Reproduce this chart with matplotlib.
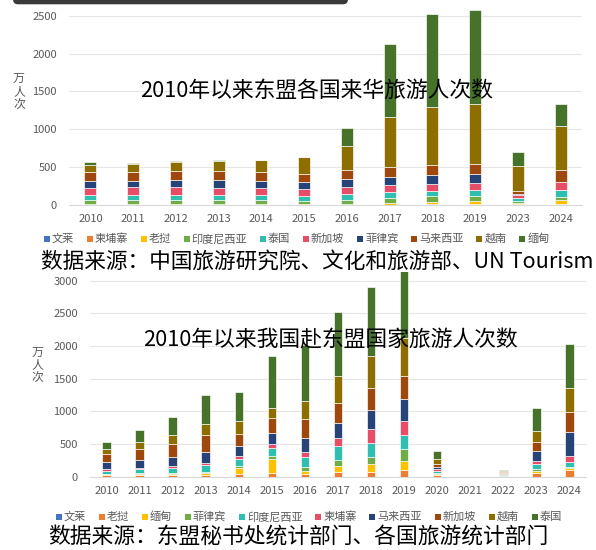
import matplotlib
matplotlib.use("Agg")
import matplotlib.pyplot as plt
from matplotlib.patches import FancyBboxPatch, Rectangle
import numpy as np

plt.rcParams['font.family'] = ['Noto Sans CJK SC', 'DejaVu Sans']

W, H = 596, 550

# --- chart 1: 东盟各国来华旅游人次 (万人次)
title_in = "2010年以来东盟各国来华旅游人次数"
source_in = "数据来源：中国旅游研究院、文化和旅游部、UN Tourism"
years_in = ["2010", "2011", "2012", "2013", "2014", "2015", "2016",
            "2017", "2018", "2019", "2023", "2024"]
countries_in = ["文莱", "柬埔寨", "老挝", "印度尼西亚", "泰国",
                "新加坡", "菲律宾", "马来西亚", "越南", "缅甸"]
brunei_in = [1, 1, 1, 1, 1, 1, 1, 1, 2, 2, 2, 2]
cambodia_in = [3, 3, 3, 3, 3, 3, 3, 5, 5, 5, 5, 8]
laos_in = [4, 4, 4, 4, 4, 5, 8, 22, 38, 40, 22, 55]
indonesia_in = [57, 58, 60, 60, 57, 48, 60, 65, 68, 72, 22, 45]
thailand_in = [64, 62, 65, 65, 61, 64, 75, 79, 76, 78, 35, 82]
singapore_in = [100, 106, 103, 97, 97, 88, 90, 92, 92, 92, 40, 108]
philippines_in = [83, 86, 96, 100, 97, 98, 110, 112, 115, 118, 15, 0]
malaysia_in = [125, 118, 120, 118, 113, 108, 115, 120, 127, 132, 38, 165]
vietnam_in = [92, 100, 110, 133, 160, 218, 317, 660, 765, 795, 340, 575]
myanmar_in = [35, 14, 18, 13, 3, 3, 240, 968, 1240, 1247, 184, 300]

# --- chart 2: 我国赴东盟国家旅游人次 (万人次)
title_out = "2010年以来我国赴东盟国家旅游人次数"
source_out = "数据来源：东盟秘书处统计部门、各国旅游统计部门"
years_out = [str(y) for y in range(2010, 2025)]
countries_out = ["文莱", "老挝", "缅甸", "菲律宾", "印度尼西亚",
                 "柬埔寨", "马来西亚", "新加坡", "越南", "泰国"]
brunei_out = [2, 2, 2, 2, 2, 2, 2, 2, 2, 2, 1, 0, 0, 1, 1]
laos_out = [20, 25, 30, 31, 41, 51, 46, 66, 76, 102, 20, 0, 10, 61, 102]
myanmar_out = [15, 20, 15, 20, 97, 214, 38, 97, 112, 143, 20, 0, 5, 31, 25]
philippines_out = [10, 15, 15, 26, 25, 46, 61, 92, 117, 173, 20, 0, 10, 20, 25]
indonesia_out = [46, 51, 76, 97, 107, 130, 150, 214, 214, 219, 25, 0, 15, 82, 76]
cambodia_out = [20, 15, 20, 41, 46, 58, 87, 117, 204, 219, 25, 0, 10, 46, 87]
malaysia_out = [112, 127, 138, 168, 153, 173, 204, 229, 296, 326, 31, 0, 10, 153, 367]
singapore_out = [122, 163, 199, 255, 183, 232, 291, 316, 331, 357, 46, 0, 15, 133, 311]
vietnam_out = [82, 117, 143, 163, 204, 153, 275, 408, 500, 576, 82, 0, 10, 173, 357]
thailand_out = [102, 178, 275, 454, 436, 785, 856, 977, 1053, 1096, 122, 0, 15, 346, 678]

palette = ['#4472C4', '#ED7D31', '#FFC000', '#70AD47', '#2EBFB0',
           '#E84D68', '#264478', '#9E480E', '#8F6E00', '#47722A']
grey = '#595959'


def px_box(left, top, right, bottom):
    return [left / W, 1 - bottom / H, (right - left) / W, (bottom - top) / H]


def stacked(ax, labels, series, width):
    x = np.arange(len(labels))
    base = np.zeros(len(labels))
    for vals, c in zip(series, palette):
        vals = np.asarray(vals, dtype=float)
        ax.bar(x, vals, width, bottom=base, color=c,
               edgecolor='white', linewidth=0.45, zorder=3)
        base += vals
    ax.set_xlim(-0.5, len(labels) - 0.5)
    ax.set_xticks(x, labels)
    ax.grid(axis='y', color='#e6e6e6', linewidth=0.8, zorder=0)
    for s in ['top', 'right', 'left']:
        ax.spines[s].set_visible(False)
    ax.spines['bottom'].set_color('#d9d9d9')
    ax.tick_params(length=0, labelsize=8, colors=grey)


fig = plt.figure(figsize=(W / 100, H / 100), dpi=100)

ax1 = fig.add_axes(px_box(69, 0, 582, 205))
stacked(ax1, years_in,
        [brunei_in, cambodia_in, laos_in, indonesia_in, thailand_in,
         singapore_in, philippines_in, malaysia_in, vietnam_in, myanmar_in],
        0.28)
ax1.set_ylim(0, 2707)
ax1.set_yticks(range(0, 2501, 500))
ax1.tick_params(axis='y', pad=8.6)
ax1.tick_params(axis='x', pad=6.5)

ax2 = fig.add_axes(px_box(90, 272, 586, 476.7))
stacked(ax2, years_out,
        [brunei_out, laos_out, myanmar_out, philippines_out, indonesia_out,
         cambodia_out, malaysia_out, singapore_out, vietnam_out, thailand_out],
        0.26)
ax2.set_ylim(0, 3133)
ax2.set_yticks(range(0, 3001, 500))
ax2.tick_params(axis='y', pad=8.6)
ax2.tick_params(axis='x', pad=7)

# overlay in pixel coordinates for titles, legends, sources
ov = fig.add_axes([0, 0, 1, 1])
ov.set_xlim(0, W)
ov.set_ylim(H, 0)
ov.axis('off')
ov.set_zorder(10)

ov.add_patch(FancyBboxPatch((13, -10), 335, 14.3,
                            boxstyle="round,pad=0,rounding_size=5",
                            fc='#3a3a3a', ec='none'))

ov.text(316.5, 91, title_in, fontsize=15.7, ha='center', va='center')
ov.text(330, 340, title_out, fontsize=15.7, ha='center', va='center')

ov.text(19, 91.5, "万\n人\n次", fontsize=8.6, ha='center', va='center',
        linespacing=1.0, color=grey)
ov.text(37.5, 365, "万\n人\n次", fontsize=8.6, ha='center', va='center',
        linespacing=1.0, color=grey)

renderer = fig.canvas.get_renderer()


def legend_row(x, yc, labels):
    for lab, c in zip(labels, palette):
        ov.add_patch(Rectangle((x, yc - 3), 6, 6, color=c, lw=0))
        t = ov.text(x + 8, yc, lab, fontsize=8, va='center', color=grey)
        x += 8 + t.get_window_extent(renderer).width + 12.7


legend_row(43.7, 239, countries_in)
legend_row(56, 517, countries_out)

ov.text(41, 262, source_in, fontsize=15.6, va='center', ha='left')
ov.text(48, 537, source_out, fontsize=15.7, va='center', ha='left')

fig.savefig("out.png", dpi=100)
